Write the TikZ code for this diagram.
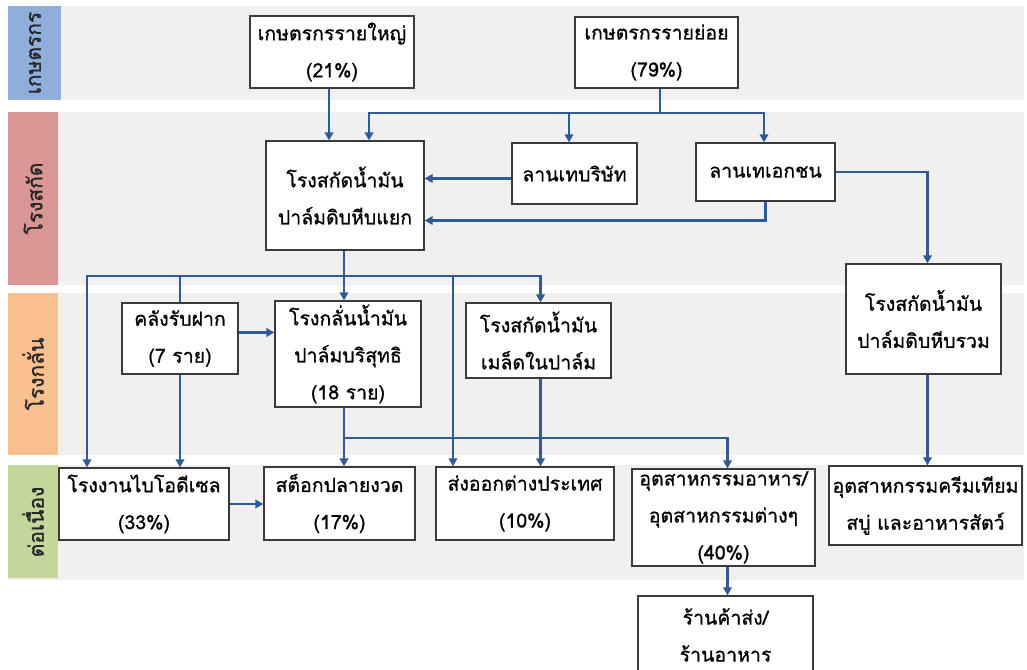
\documentclass[tikz,border=0pt]{standalone}
\usepackage{fontspec}
\newfontfamily\thaifont[Script=Thai,FakeBold=0.8]{Loma}
\usetikzlibrary{arrows.meta}
\definecolor{arrowblue}{HTML}{2E5A96}
\definecolor{boxline}{HTML}{3A3A3A}
\definecolor{bandgray}{HTML}{F0F0F0}
\definecolor{labblue}{HTML}{8FAEDC}
\definecolor{labred}{HTML}{DA9694}
\definecolor{laborange}{HTML}{FAC090}
\definecolor{labgreen}{HTML}{C3D69B}
\begin{document}
\begin{tikzpicture}[x=1pt,y=-1pt,
  box/.style={draw=boxline, line width=1.3pt, fill=white, align=center, inner sep=1pt,
    font=\thaifont\fontsize{19.5}{37}\selectfont},
  conn/.style={draw=arrowblue, line width=2.6pt},
  arr/.style={conn, -{Triangle[length=8pt,width=8.5pt]}},
  band/.style={fill=bandgray, draw=none},
  lab/.style={font=\thaifont\fontsize{21}{24}\selectfont, rotate=90, text=black!85}]
\useasboundingbox (0,0) rectangle (1027,669);
\clip (0,0) rectangle (1027,669);
\fill[white] (0,0) rectangle (1027,669);
% bands
\fill[bandgray] (8,6) rectangle (1024,100);
\fill[bandgray] (8,112) rectangle (1024,285);
\fill[bandgray] (8,293) rectangle (1024,455);
\fill[bandgray] (8,465) rectangle (1024,580);
\fill[labblue] (8,6) rectangle (61,100);
\fill[labred] (8,112) rectangle (58,285);
\fill[laborange] (8,293) rectangle (58,455);
\fill[labgreen] (8,465) rectangle (58,578);
\node[lab] (labA) at (35,53) {เกษตรกร};
\node[lab] (labB) at (33,198.5) {โรงสกัด};
\node[lab] (labC) at (33,374) {โรงกลั่น};
\node[lab] (labD) at (33,522) {ต่อเนื่อง};
% nodes
\node[box, minimum width=164pt, minimum height=72pt] (large) at (332,52) {เกษตรกรรายใหญ่\\(21\%)};
\node[box, minimum width=163pt, minimum height=71pt] (small) at (656.5,52.5) {เกษตรกรรายย่อย\\(79\%)};
\node[box, minimum width=158pt, minimum height=109pt] (mill) at (345,195.5) {โรงสกัดน้ำมัน\\ปาล์มดิบหีบแยก};
\node[box, minimum width=125pt, minimum height=61pt] (yardA) at (574.5,173.5) {ลานเทบริษัท};
\node[box, minimum width=139pt, minimum height=58pt] (yardB) at (765.5,172) {ลานเทเอกชน};
\node[box, minimum width=155pt, minimum height=110pt] (mill2) at (923.5,319) {โรงสกัดน้ำมัน\\ปาล์มดิบหีบรวม};
\node[box, minimum width=116pt, minimum height=71pt] (storage) at (180,338.5) {คลังรับฝาก\\(7 ราย)};
\node[box, minimum width=146pt, minimum height=106pt] (refinery) at (348,354) {โรงกลั่นน้ำมัน\\ปาล์มบริสุทธิ\\(18 ราย)};
\node[box, minimum width=145pt, minimum height=75pt] (kernel) at (538.5,340.5) {โรงสกัดน้ำมัน\\เมล็ดในปาล์ม};
\node[box, minimum width=170pt, minimum height=72pt] (biodiesel) at (144,504) {โรงงานไบโอดีเซล\\(33\%)};
\node[box, minimum width=151pt, minimum height=73pt] (stock) at (339.5,503.5) {สต็อกปลายงวด\\(17\%)};
\node[box, minimum width=178pt, minimum height=73pt] (export) at (525,503.5) {ส่งออกต่างประเทศ\\(10\%)};
\node[box, minimum width=183pt, minimum height=97pt] (food) at (723.5,517.5) {อุตสาหกรรมอาหาร/\\อุตสาหกรรมต่างๆ\\(40\%)};
\node[box, minimum width=193pt, minimum height=79pt] (cream) at (925.5,505.5) {อุตสาหกรรมครีมเทียม\\สบู่ และอาหารสัตว์};
\node[box, minimum width=175pt, minimum height=78pt] (shop) at (725.5,635) {ร้านค้าส่ง/\\ร้านอาหาร};
% junction rows
\coordinate (j1) at (0,113);
\coordinate (j2) at (0,276);
\coordinate (j3) at (0,438);
% connectors
\draw[arr] ([xshift=-3pt]large.south) -- ([xshift=-3pt]large.south |- mill.north);
\draw[conn] ([xshift=3.5pt]small.south) -- ([xshift=3.5pt]small.south |- j1);
\draw[arr] ([xshift=3.5pt]small.south |- j1) -| ([xshift=-1.5pt]yardB.north);
\draw[arr] ([xshift=3.5pt]small.south |- j1) -| ([xshift=-5.5pt]yardA.north);
\draw[arr] ([xshift=3.5pt]small.south |- j1) -| ([xshift=24pt]mill.north);
\draw[arr] ([yshift=-5pt]yardA.west) -- ([yshift=-5pt]yardA.west -| mill.east);
\draw[arr] (yardB.south) |- ([yshift=-25pt]mill.east);
\draw[arr] (yardB.east) -| ([xshift=4pt]mill2.north);
\draw[arr] ([xshift=4pt]mill2.south) -- ([xshift=4pt]mill2.south |- cream.north);
\draw[arr] ([xshift=-1pt]mill.south) -- ([xshift=-1pt]mill.south |- refinery.north);
\draw[arr] ([xshift=-1pt]mill.south |- j2) -| ([xshift=2pt]kernel.north);
\draw[arr] ([xshift=-1pt]mill.south |- j2) -| ([xshift=-57pt]biodiesel.north);
\draw[conn] ([xshift=-1pt]mill.south |- j2) -| (storage.north);
\draw[arr] ([xshift=-1pt]mill.south |- j2) -| ([xshift=-72pt]export.north);
\draw[arr] ([yshift=6pt]storage.east) -- ([yshift=6pt]storage.east -| refinery.west);
\draw[arr] (storage.south) -- (storage.south |- biodiesel.north);
\draw[arr] ([xshift=-4pt]refinery.south) -- ([xshift=-4pt]refinery.south |- stock.north);
\draw[arr] ([xshift=-4pt]refinery.south |- j3) -| ([xshift=4pt]food.north);
\draw[arr] ([xshift=2pt]kernel.south) -- ([xshift=2pt]kernel.south |- export.north);
\draw[arr] (biodiesel.east) -- (biodiesel.east -| stock.west);
\draw[arr] ([xshift=4pt]food.south) -- ([xshift=4pt]food.south |- shop.north);
\end{tikzpicture}
\end{document}
